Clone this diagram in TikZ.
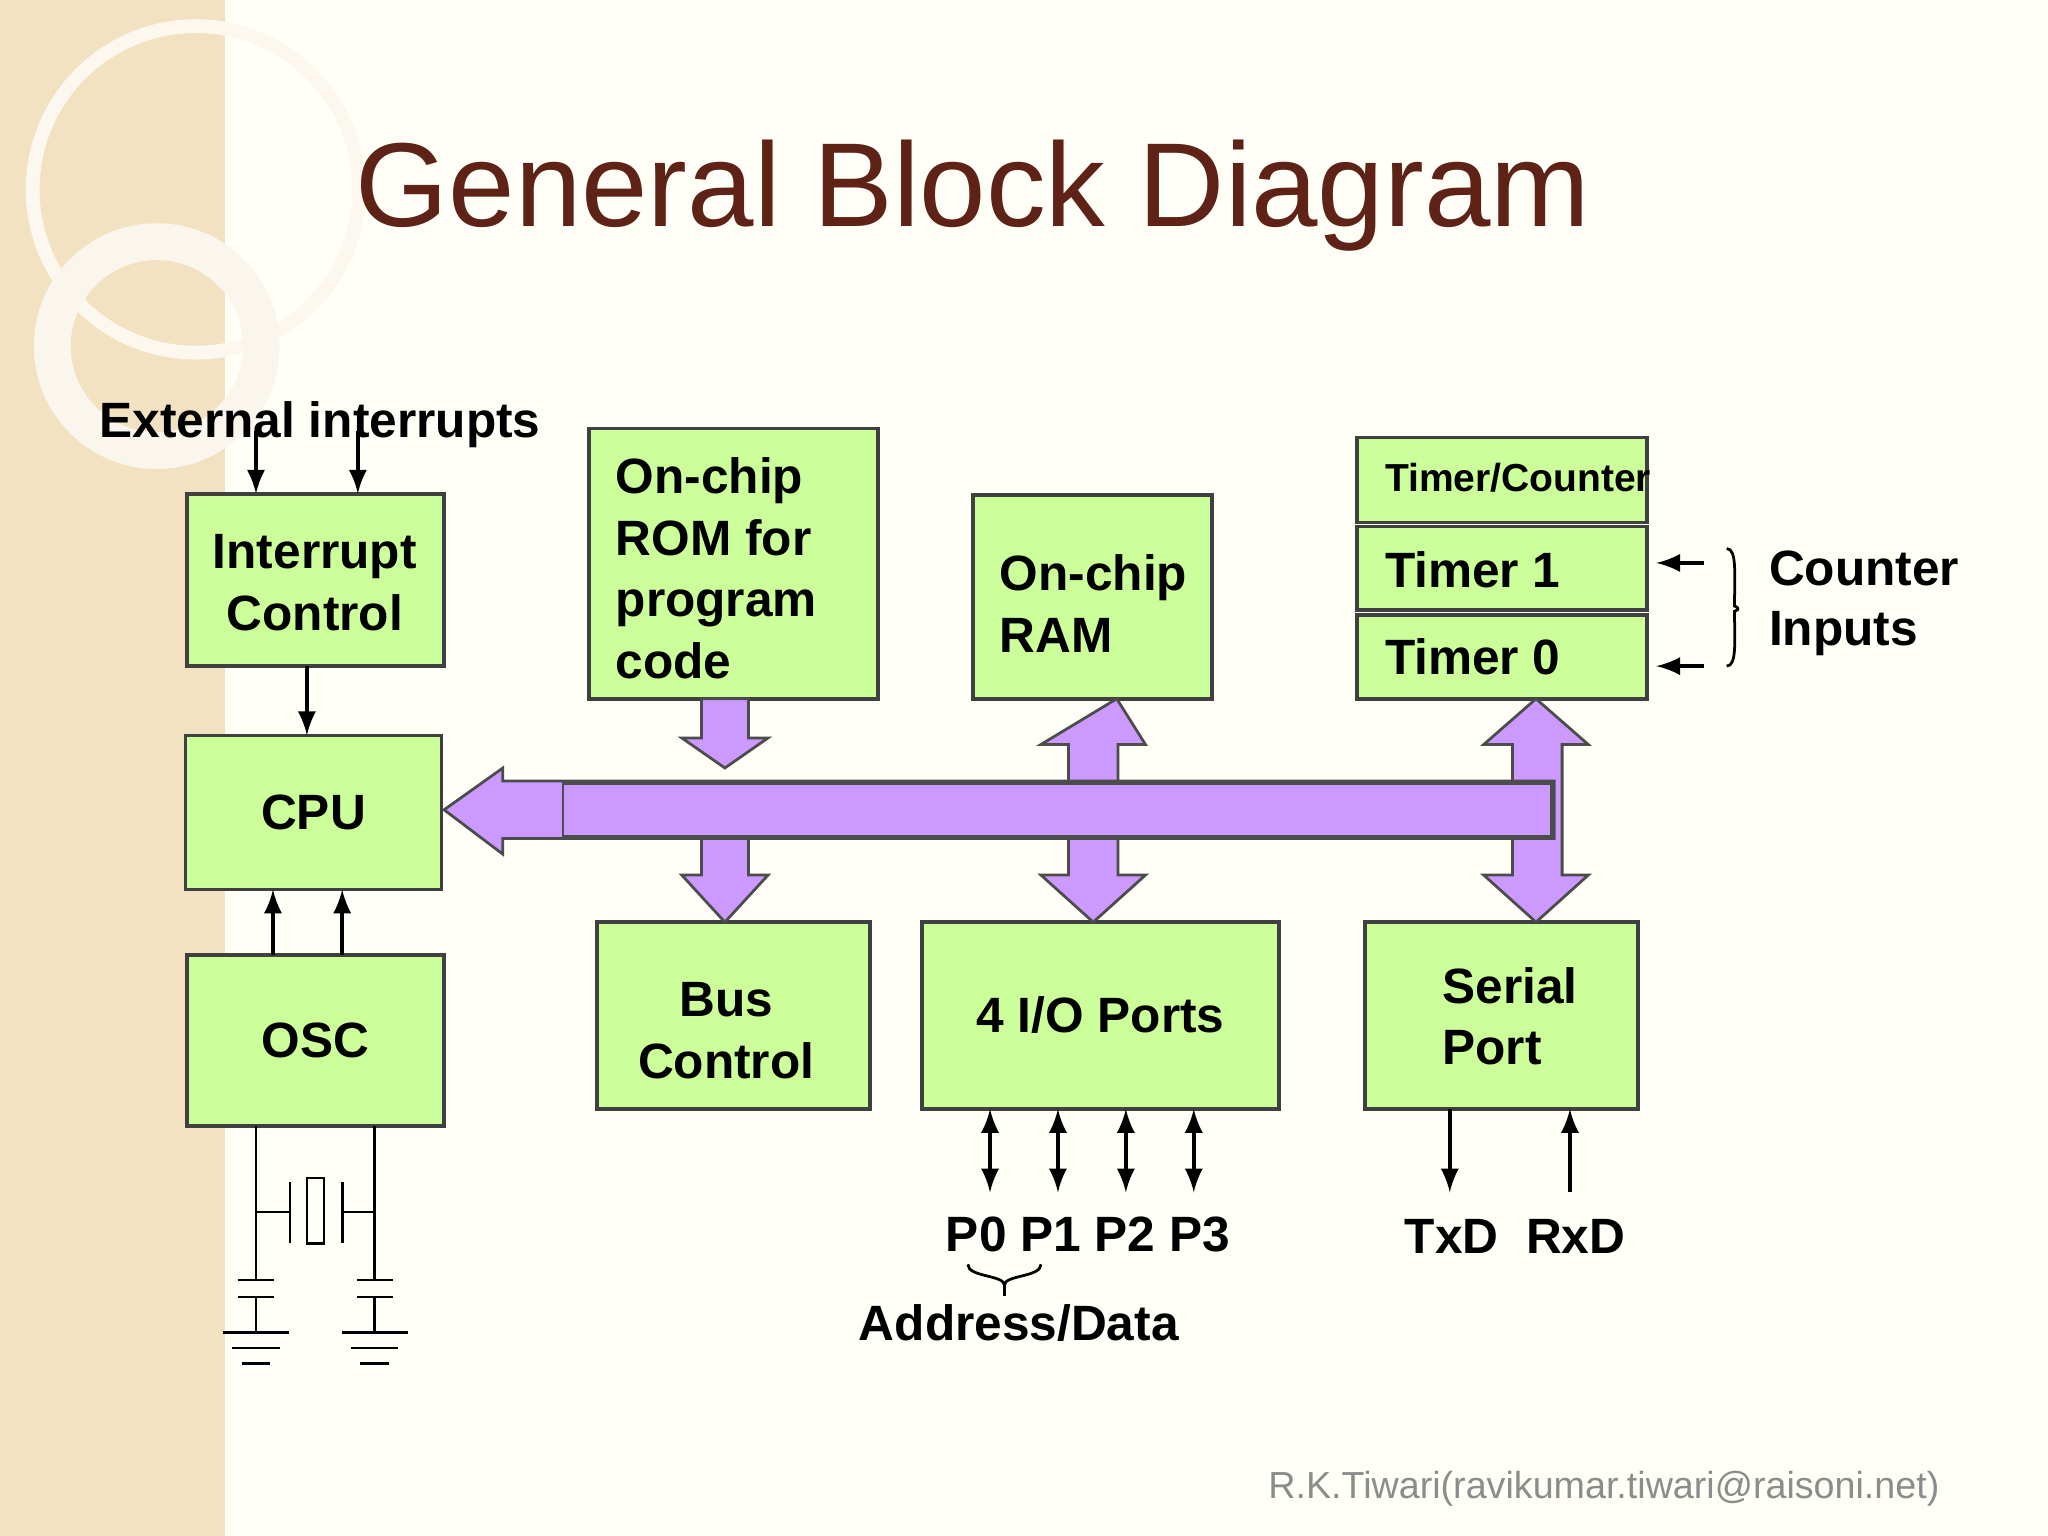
\documentclass[tikz,border=0pt]{standalone}
\usepackage{fontspec}
\setmainfont{Liberation Sans}
\begin{document}
\begin{tikzpicture}[x=0.01cm,y=-0.01cm,
 bt/.style={font=\bfseries\fontsize{10.8}{13.4}\selectfont,align=left},
 lbl/.style={font=\bfseries\fontsize{10.8}{13}\selectfont},
 ar/.style={-latex,line width=0.8pt},
 thin/.style={line width=0.6pt}]
\definecolor{busc}{HTML}{CC99FF}
\definecolor{boxc}{HTML}{CCFF99}
\definecolor{strip}{HTML}{F2E2C2}
\definecolor{titlec}{HTML}{5E2216}
\tikzset{box/.style={draw=black!75,fill=boxc,line width=0.8pt},bus/.style={fill=busc,draw=black!70,line width=0.6pt}}
\useasboundingbox (0,0) rectangle (1568,1176);
\fill[white!97!yellow] (0,0) rectangle (1568,1176);
\fill[strip] (0,0) rectangle (172,1176);
\draw[white!75!strip,line width=3pt] (150,145) circle (125);
\draw[white!70!strip,line width=8pt] (120,265) circle (80);
\node[font=\fontsize{26}{32}\selectfont,text=titlec] (title) at (745,150) {General Block Diagram};
% boxes
\draw[box] (143,378) rectangle (340,510);
\node[bt,align=center] (ic) at (241,446) {Interrupt\\Control};
\draw[box] (142,563) rectangle (338,681) node[midway,bt] (cpu) {CPU};
\draw[box] (143,731) rectangle (340,862) node[midway,bt] (osc) {OSC};
\draw[box] (451,328) rectangle (672,535);
\node[bt,anchor=north west] (rom) at (459,338) {On-chip\\ROM for\\program\\code};
\draw[box] (745,379) rectangle (928,535);
\node[bt,anchor=west] (ram) at (753,462) {On-chip\\RAM};
\draw[box] (1039,335) rectangle (1261,400);
\node[font=\bfseries\fontsize{8.5}{10}\selectfont,anchor=west] (tc) at (1048,366) {Timer/Counter};
\draw[box] (1039,403) rectangle (1261,467);
\node[bt,anchor=west] (t1) at (1048,436) {Timer 1};
\draw[box] (1039,471) rectangle (1261,535);
\node[bt,anchor=west] (t0) at (1048,503) {Timer 0};
\draw[box] (457,706) rectangle (666,849);
\node[bt,align=center] (bc) at (556,789) {Bus\\Control};
\draw[box] (706,706) rectangle (979,849) node[midway,bt] (io) {4 I/O Ports};
\draw[box] (1045,706) rectangle (1254,849);
\node[bt,anchor=west] (sp) at (1092,778) {Serial\\Port};
% bus arrows
\draw[bus] (537,535)--(573,535)--(573,565)--(588,565)--(555,588)--(522,565)--(537,565)--cycle;
\draw[bus] (537,600)--(537,670)--(522,670)--(555,706)--(588,670)--(573,670)--(573,600)--cycle;
\draw[bus] (855,535)--(877,570)--(856,570)--(856,670)--(877,670)--(837,706)--(797,670)--(818,670)--(818,570)--(797,570)--cycle;
\draw[bus] (1176,535)--(1216,570)--(1196,570)--(1196,670)--(1216,670)--(1176,706)--(1136,670)--(1158,670)--(1158,570)--(1136,570)--cycle;
\draw[bus] (340,620)--(385,588)--(385,598)--(1190,598)--(1190,642)--(385,642)--(385,654)--cycle;
\draw[bus] (431,600) rectangle (1188,640);
% small arrows
\node[lbl] (ext) at (245,325) {External interrupts};
\draw[ar] (196,330)--(196,378);
\draw[ar] (274,330)--(274,378);
\draw[ar] (235,510)--(235,563);
\draw[ar] (209,731)--(209,681);
\draw[ar] (262,731)--(262,681);
\foreach \x in {758,810,862,914} \draw[latex-latex,line width=0.8pt] (\x,849)--(\x,913);
\draw[ar] (1110,849)--(1110,913);
\draw[ar] (1202,913)--(1202,849);
\node[lbl] (pp) at (833,945) {P0 P1 P2 P3};
\draw[thin] (741,968) .. controls (741,978) and (769,976) .. (769,984) .. controls (769,976) and (797,978) .. (797,968);
\draw[thin] (769,984)--(769,992);
\node[lbl] (ad) at (780,1013) {Address/Data};
\node[lbl] (txrx) at (1160,947) {TxD\ \ RxD};
\draw[ar] (1305,431)--(1268,431);
\draw[ar] (1305,510)--(1268,510);
\draw[thin] (1322,420) .. controls (1330,420) and (1328,440) .. (1328,464) .. controls (1328,464) and (1334,466) .. (1328,468) .. controls (1328,490) and (1330,510) .. (1322,510);
\node[lbl,align=left,anchor=west] (ci) at (1342,462) {Counter\\Inputs};
% crystal
\draw[thin] (196,862)--(196,980) (287,862)--(287,980);
\draw[thin] (196,928)--(222,928) (222,905)--(222,952) (262,905)--(262,952) (262,928)--(287,928);
\draw[thin] (235,902) rectangle (248,952);
\foreach \x in {196,287}{
 \draw[thin] (\x-14,980)--(\x+14,980) (\x-14,993)--(\x+14,993) (\x,993)--(\x,1020);
 \draw[thin] (\x-25,1020)--(\x+25,1020) (\x-18,1032)--(\x+18,1032) (\x-11,1044)--(\x+11,1044);}
\node[text=black!45,font=\fontsize{8.2}{10}\selectfont] (ft) at (1228,1140) {R.K.Tiwari(ravikumar.tiwari@raisoni.net)};
\end{tikzpicture}
\end{document}
